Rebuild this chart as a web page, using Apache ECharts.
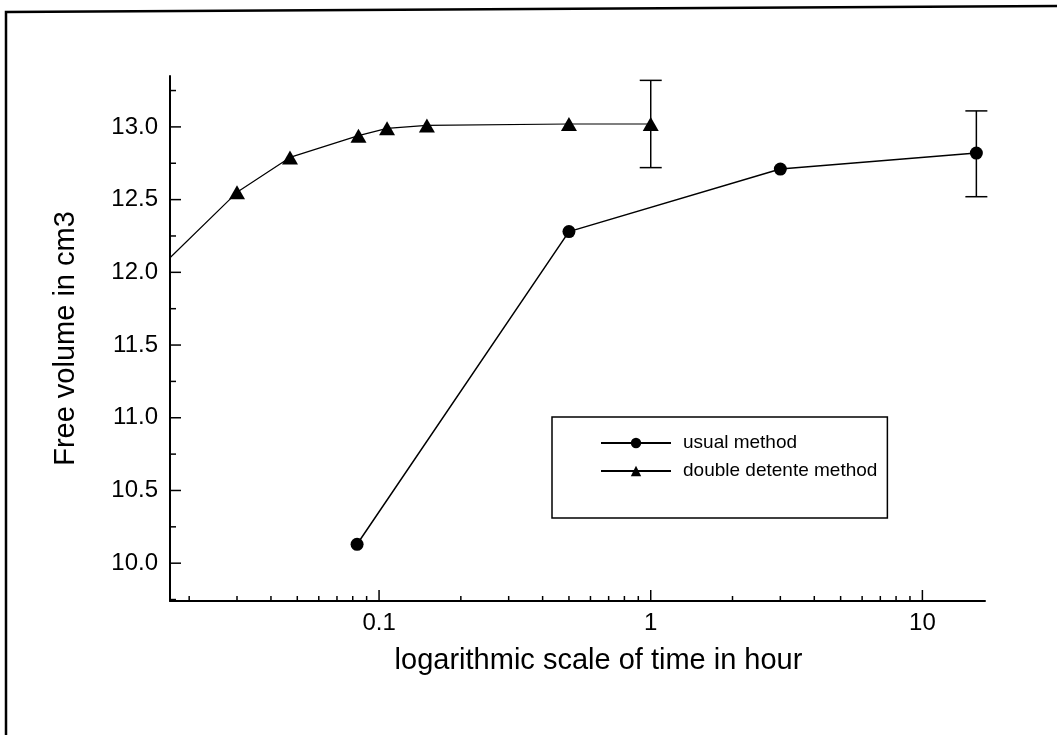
<!DOCTYPE html>
<html>
<head>
<meta charset="utf-8">
<script src="https://cdn.jsdelivr.net/npm/echarts@6/dist/echarts.min.js"></script>
<style>
html, body { margin: 0; padding: 0; background: #fff; }
#chart { width: 1057px; height: 735px; }
</style>
</head>
<body>
<div id="chart"></div>
<script>
// time in hours (log axis) / free volume in cm3
const usualTime   = [0.083, 0.5, 3, 15.8];
const usualVolume = [10.13, 12.28, 12.71, 12.82];
const usualErr    = [[15.8, 12.52, 13.11]];   // [time, low, high]

const doubleTime   = [0.017, 0.03, 0.047, 0.084, 0.107, 0.15, 0.5, 1.0];
const doubleVolume = [12.1, 12.55, 12.79, 12.94, 12.99, 13.01, 13.02, 13.02];
const doubleErr    = [[1.0, 12.72, 13.32]];

const X_MIN = 0.017, X_MAX = 17;
const Y_MIN = 9.74, Y_MAX = 13.35;

const xMajorTicks = [0.1, 1, 10];
const xMinorTicks = [0.02, 0.03, 0.04, 0.05, 0.06, 0.07, 0.08, 0.09,
                     0.2, 0.3, 0.4, 0.5, 0.6, 0.7, 0.8, 0.9,
                     2, 3, 4, 5, 6, 7, 8, 9];
const yMajorTicks = [10, 10.5, 11, 11.5, 12, 12.5, 13];
const yMinorTicks = [9.75, 10.25, 10.75, 11.25, 11.75, 12.25, 12.75, 13.25];

const FONT = '"Liberation Sans", Arial, sans-serif';
const INK = '#000';

const el = document.getElementById('chart');
const chart = echarts.init(el, null, { renderer: 'canvas' });

// ticks drawn inward at axis positions via the axis scales
function xTickItem(params, api) {
  const p = api.coord([api.value(0), api.value(1)]);
  const len = api.value(2);
  return { type: 'line', shape: { x1: p[0], y1: p[1], x2: p[0], y2: p[1] - len },
           style: { stroke: INK, lineWidth: 1.5 } };
}
function yTickItem(params, api) {
  const p = api.coord([api.value(0), api.value(1)]);
  const len = api.value(2);
  return { type: 'line', shape: { x1: p[0], y1: p[1], x2: p[0] + len, y2: p[1] },
           style: { stroke: INK, lineWidth: 1.5 } };
}
function errItem(params, api) {
  const t = api.value(0);
  const lo = api.coord([t, api.value(1)]);
  const hi = api.coord([t, api.value(2)]);
  const w = 11;
  const st = { stroke: INK, lineWidth: 1.5 };
  return { type: 'group', children: [
    { type: 'line', shape: { x1: lo[0], y1: lo[1], x2: hi[0], y2: hi[1] }, style: st },
    { type: 'line', shape: { x1: hi[0] - w, y1: hi[1], x2: hi[0] + w, y2: hi[1] }, style: st },
    { type: 'line', shape: { x1: lo[0] - w, y1: lo[1], x2: lo[0] + w, y2: lo[1] }, style: st }
  ]};
}

const xTickData = xMajorTicks.map(v => [v, Y_MIN, 11]).concat(xMinorTicks.map(v => [v, Y_MIN, 5]));
const yTickData = yMajorTicks.map(v => [X_MIN, v, 11]).concat(yMinorTicks.map(v => [X_MIN, v, 6]));

const doubleData = doubleTime.map((t, i) => [t, doubleVolume[i]]);
doubleData[0] = { value: doubleData[0], symbol: 'none' };   // line runs in from the left edge

const option = {
  animation: false,
  backgroundColor: '#fff',
  textStyle: { fontFamily: FONT, color: INK },
  grid: { left: 170, right: 72, top: 76, bottom: 134 },
  graphic: [{
    type: 'polyline',
    shape: { points: [[6, 735], [6, 12], [1057, 6]] },
    style: { stroke: INK, lineWidth: 2.5, fill: null }
  }],
  legend: {
    data: ['usual method', 'double detente method'],
    orient: 'vertical',
    left: 552, top: 417,
    padding: [12, 10, 33, 48],
    itemWidth: 70, itemHeight: 13, itemGap: 0,
    selectedMode: false,
    backgroundColor: '#fff',
    borderColor: INK, borderWidth: 1.5, borderRadius: 0,
    textStyle: { fontFamily: FONT, fontSize: 19, color: INK, lineHeight: 28, padding: [0, 0, 0, 7] }
  },
  xAxis: {
    type: 'log',
    min: X_MIN, max: X_MAX,
    name: 'logarithmic scale of time in hour',
    nameLocation: 'middle', nameGap: 45,
    nameTextStyle: { fontFamily: FONT, fontSize: 29, color: INK, padding: [0, 0, 0, 42] },
    axisLine: { lineStyle: { color: INK, width: 2 } },
    axisTick: { show: false },
    splitLine: { show: false },
    axisLabel: { fontFamily: FONT, fontSize: 24, color: INK, margin: 10,
                 showMinLabel: false, showMaxLabel: false,
                 formatter: v => String(+v.toPrecision(3)) }
  },
  yAxis: {
    type: 'value',
    min: Y_MIN, max: Y_MAX, splitNumber: 7,
    name: 'Free volume in cm3',
    nameLocation: 'middle', nameGap: 90, nameRotate: 90,
    nameTextStyle: { fontFamily: FONT, fontSize: 29, color: INK },
    axisLine: { show: true, lineStyle: { color: INK, width: 2 } },
    axisTick: { show: false },
    splitLine: { show: false },
    axisLabel: { fontFamily: FONT, fontSize: 24, color: INK, margin: 12,
                 showMinLabel: false, showMaxLabel: false,
                 formatter: v => v.toFixed(1) }
  },
  series: [
    {
      name: 'usual method', type: 'line',
      data: usualTime.map((t, i) => [t, usualVolume[i]]),
      symbol: 'circle', symbolSize: 13,
      itemStyle: { color: INK },
      lineStyle: { color: INK, width: 1.5 },
      z: 3
    },
    {
      name: 'double detente method', type: 'line',
      data: doubleData,
      symbol: 'triangle', symbolSize: [16, 14],
      itemStyle: { color: INK },
      lineStyle: { color: INK, width: 1.2 },
      z: 3
    },
    { type: 'custom', renderItem: errItem, data: usualErr, silent: true, z: 2 },
    { type: 'custom', renderItem: errItem, data: doubleErr, silent: true, z: 2 },
    { type: 'custom', renderItem: xTickItem, data: xTickData, silent: true, z: 4 },
    { type: 'custom', renderItem: yTickItem, data: yTickData, silent: true, z: 4 }
  ]
};

chart.setOption(option);
</script>
</body>
</html>
